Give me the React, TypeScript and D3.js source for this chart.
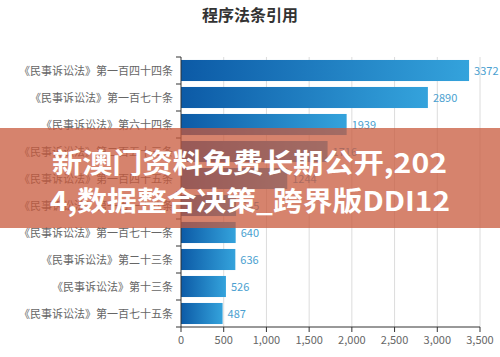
import React from "react";
import * as d3 from "d3";

const categories = [
  "《民事诉讼法》第一百四十四条",
  "《民事诉讼法》第一百七十条",
  "《民事诉讼法》第六十四条",
  "《民事诉讼法》第二百五十三条",
  "《民事诉讼法》第一百四十五条",
  "《民事诉讼法》第一百一十八条",
  "《民事诉讼法》第一百七十一条",
  "《民事诉讼法》第二十三条",
  "《民事诉讼法》第十三条",
  "《民事诉讼法》第一百七十五条",
];
const values = [3372, 2890, 1939, 1716, 1244, 645, 640, 636, 526, 487];
const xTicks = [0, 500, 1000, 1500, 2000, 2500, 3000, 3500];
const title = "程序法条引用";
const bannerLines = ["新澳门资料免费长期公开,202", "4,数据整合决策_跨界版DDI12"];

const W = 500;
const H = 357;
const left = 181;
const right = 480;
const top = 57;
const bottom = 327;
const font = "'Noto Sans CJK SC', 'Noto Sans', sans-serif";

export default function App() {
  const x = d3.scaleLinear().domain([0, 3500]).range([left, right]);
  const y = d3.scaleBand<string>().domain(categories).range([top, bottom]).paddingInner(0.22).paddingOuter(0.11);
  const band = d3.scaleBand<string>().domain(categories).range([top, bottom]);
  const bounds = categories.map((c) => band(c) as number).concat([bottom]);

  return (
    <svg width={W} height={H} style={{ position: "absolute", left: 0, top: 0, background: "#fff" }} fontFamily={font}>
      <defs>
        <linearGradient id="barGrad" x1="0" x2="1" y1="0" y2="0">
          <stop offset="0%" stopColor="#0c5aa6" />
          <stop offset="100%" stopColor="#34a3dc" />
        </linearGradient>
      </defs>
      <rect x={0} y={0} width={W} height={H} fill="#fff" />
      <text x={250} y={21} textAnchor="middle" fontSize={16} fontWeight="bold" fill="#333">
        {title}
      </text>
      {xTicks.slice(1).map((t) => (
        <line key={"g" + t} x1={x(t)} x2={x(t)} y1={top} y2={bottom} stroke="#dcdcdc" strokeWidth={1} />
      ))}
      {categories.map((c, i) => (
        <g key={c}>
          <rect x={x(0)} y={y(c)} width={x(values[i]) - x(0)} height={y.bandwidth()} fill="url(#barGrad)" />
          <text x={x(values[i]) + 5} y={(y(c) as number) + y.bandwidth() / 2 + 4} fontSize={11} fill="#4a9fd0">
            {values[i]}
          </text>
          <text x={173} y={(y(c) as number) + y.bandwidth() / 2 + 4} fontSize={11} textAnchor="end" fill="#666">
            {c}
          </text>
        </g>
      ))}
      <line x1={left} x2={left} y1={top} y2={bottom} stroke="#333" strokeWidth={1} />
      {bounds.map((b, i) => (
        <line key={"yt" + i} x1={left - 5} x2={left} y1={b} y2={b} stroke="#333" strokeWidth={1} />
      ))}
      <line x1={left} x2={right} y1={bottom} y2={bottom} stroke="#333" strokeWidth={1} />
      {xTicks.map((t) => (
        <g key={"xt" + t}>
          <line x1={x(t)} x2={x(t)} y1={bottom} y2={bottom + 5} stroke="#333" strokeWidth={1} />
          <text x={x(t)} y={bottom + 17} textAnchor="middle" fontSize={11} fill="#666">
            {d3.format(",")(t)}
          </text>
        </g>
      ))}
      <rect x={0} y={128} width={W} height={100} fill="rgba(200,90,60,0.75)" />
      <text x={52} y={173} fontSize={27} fontWeight="bold" fill="#fff" textLength={395} lengthAdjust="spacingAndGlyphs">
        {bannerLines[0]}
      </text>
      <text x={50} y={211} fontSize={27} fontWeight="bold" fill="#fff" textLength={400} lengthAdjust="spacingAndGlyphs">
        {bannerLines[1]}
      </text>
    </svg>
  );
}
